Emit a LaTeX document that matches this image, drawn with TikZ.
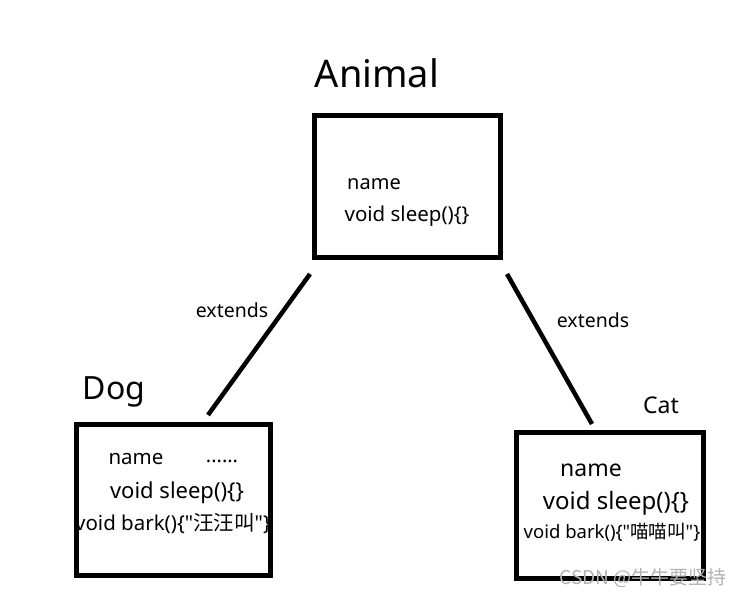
\documentclass[tikz,border=0pt]{standalone}
\usepackage{fontspec}
\setmainfont{Noto Sans}[Ligatures=TeXOff]
\newfontfamily\cjk{Noto Sans CJK SC}[Ligatures=TeXOff]
\tikzset{
  box/.style={draw=black,line width=5pt,fill=white},
  link/.style={draw=black,line width=4.5pt},
  txt/.style={inner sep=0pt,anchor=center,text=black},
}
\newcommand{\fs}[1]{\fontsize{#1}{#1}\selectfont}
\newcommand{\dq}{\symbol{34}}
\begin{document}
\begin{tikzpicture}[x=1pt,y=-1pt]
\useasboundingbox (0,0) rectangle (745,596);
\fill[white] (0,0) rectangle (745,596);
% boxes
\draw[box] (314,116) rectangle (500,258);
\draw[box] (76,424) rectangle (270,575);
\draw[box] (516,432) rectangle (703,578);
\coordinate (animalL) at (310,274);
\coordinate (dogT) at (208,415);
\coordinate (animalR) at (507,274);
\coordinate (catT) at (592,424);
\draw[link] (animalL) -- (dogT);
\draw[link] (animalR) -- (catT);
% titles
\node[txt,font=\fs{38}] (ta) at (377,73) {Animal};
\node[txt,font=\fs{32}] (td) at (114,392) {Dog};
\node[txt,font=\fs{23}] (tc) at (661,405) {Cat};
\node[txt,font=\fs{19.5}] (e1) at (232,310) {extends};
\node[txt,font=\fs{19.5}] (e2) at (593,320) {extends};
% animal
\node[txt,font=\fs{20}] (an) at (374,184) {name};
\node[txt,font=\fs{20.5}] (as) at (407,216) {void sleep()\{\}};
% dog
\node[txt,font=\fs{20.5}] (dn) at (136,459) {name};
\node[txt,font=\fs{20}] (dd) at (222,461) {......};
\node[txt,font=\fs{22}] (ds) at (177,493) {void sleep()\{\}};
\node[txt,font=\fs{20.5}] (db) at (173,524) {void bark()\{\dq{\cjk 汪汪叫}\dq\}};
% cat
\node[txt,font=\fs{23}] (cn) at (591,470) {name};
\node[txt,font=\fs{24}] (cs) at (616,503) {void sleep()\{\}};
\node[txt,font=\fs{18.5}] (cb) at (612,532) {void bark()\{\dq{\cjk 喵喵叫}\dq\}};
% watermark
\node[txt,font=\fs{19}\cjk,text=gray!60] (wm) at (643,578) {CSDN @牛牛要坚持};
\end{tikzpicture}
\end{document}
